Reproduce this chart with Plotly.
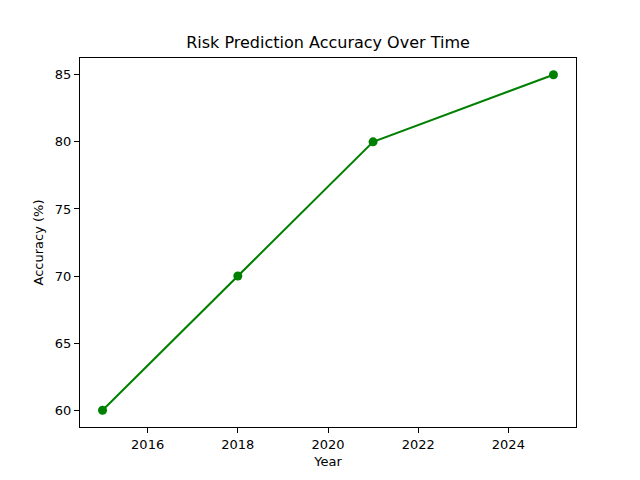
import plotly.graph_objects as go

years = [2015, 2018, 2021, 2025]
accuracy = [60, 70, 80, 85]
x_ticks = [2016, 2018, 2020, 2022, 2024]
y_ticks = [60, 65, 70, 75, 80, 85]

fig = go.Figure(go.Scatter(
    x=years, y=accuracy, mode="lines+markers",
    line=dict(color="#008000", width=2),
    marker=dict(color="#008000", size=9),
))

axis_style = dict(
    showline=True, linecolor="black", linewidth=1, mirror=True,
    ticks="outside", ticklen=5, tickcolor="black",
    showgrid=False, zeroline=False,
    tickfont=dict(size=13, color="black"),
)

# the page body adds an 8px offset, so margins are shifted to compensate
fig.update_layout(
    width=640, height=480,
    margin=dict(l=72, r=72, t=50, b=61),
    paper_bgcolor="white", plot_bgcolor="white",
    font=dict(family="DejaVu Sans", color="black"),
    title=dict(text="Risk Prediction Accuracy Over Time", x=0.5, xanchor="center",
               y=0.916, yanchor="bottom", font=dict(size=16)),
    showlegend=False,
)
fig.update_xaxes(range=[2014.5, 2025.5], tickvals=x_ticks,
                 title=dict(text="Year", font=dict(size=13), standoff=6), **axis_style)
fig.update_yaxes(range=[58.75, 86.25], tickvals=y_ticks,
                 title=dict(text="Accuracy (%)", font=dict(size=13), standoff=8), **axis_style)

fig.write_html("out.html")
